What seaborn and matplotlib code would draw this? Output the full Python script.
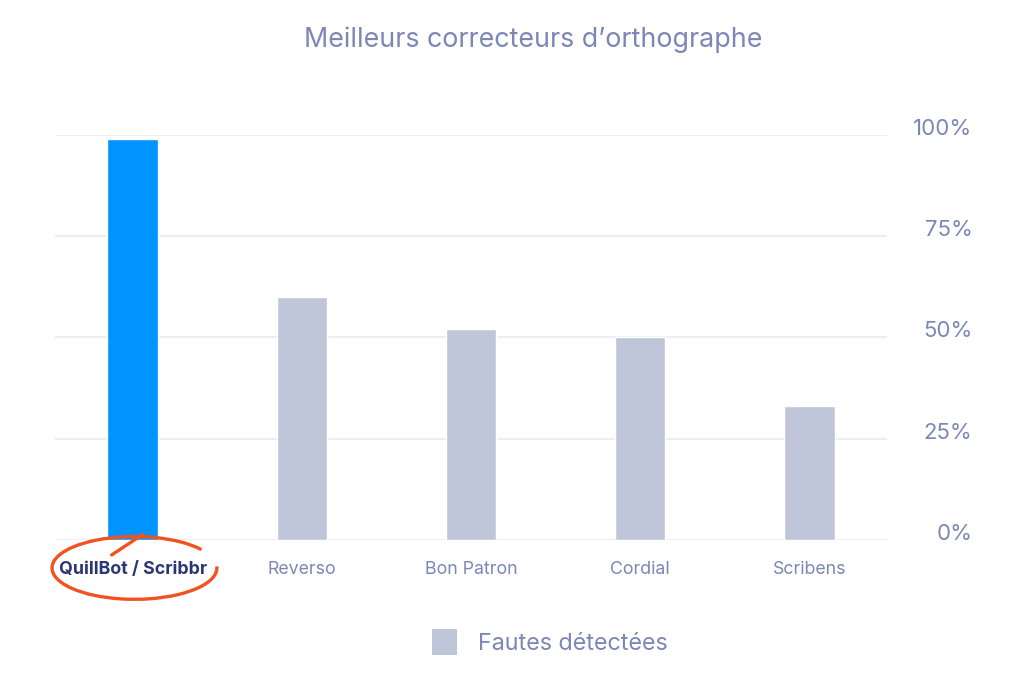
import matplotlib
matplotlib.use("Agg")
import matplotlib.pyplot as plt
from matplotlib.patches import Arc, Patch
import pandas as pd
import seaborn as sns

# valeurs
correcteurs = ["QuillBot / Scribbr", "Reverso", "Bon Patron", "Cordial", "Scribens"]
fautes = [99, 60, 52, 50, 33]
couleurs = ["#0094FF", "#C0C6D9", "#C0C6D9", "#C0C6D9", "#C0C6D9"]
yticks = [0, 25, 50, 75, 100]
ytick_labels = ["0%", "25%", "50%", "75%", "100%"]

txt = "#7C87B5"
navy = "#2B3674"
orange = "#F0531F"

sns.set_theme(style="white")
plt.rcParams["font.family"] = ["Inter", "DejaVu Sans"]

df = pd.DataFrame({"correcteur": correcteurs, "fautes": fautes})

fig = plt.figure(figsize=(10.24, 6.8), dpi=100)
ax = fig.add_axes([0.0537, 0.2059, 0.8125, 0.5956])

sns.barplot(data=df, x="correcteur", y="fautes", hue="correcteur",
            palette=couleurs, width=0.30, legend=False, ax=ax, saturation=1)

ax.set_ylim(0, 100)
ax.set_xlim(-0.46, 4.46)
ax.set_xlabel("")
ax.set_ylabel("")
for s in ax.spines.values():
    s.set_visible(False)

ax.set_yticks(yticks)
ax.set_yticklabels(ytick_labels)
ax.yaxis.tick_right()
ax.grid(axis="y", color="#E8E9EE", linewidth=1.1)
ax.set_axisbelow(True)
ax.tick_params(axis="y", length=0, pad=61.5, labelsize=16, labelcolor=txt)
for lab in ax.get_yticklabels():
    lab.set_horizontalalignment("right")
    lab.set_verticalalignment("baseline")

ax.tick_params(axis="x", length=0, pad=15, labelsize=12.8, labelcolor=txt)
first = ax.get_xticklabels()[0]
first.set_color(navy)
first.set_fontweight("bold")

# annotation à la main autour de QuillBot / Scribbr
arc = Arc((0.01, -6.9), 0.975, 15.5, theta1=85, theta2=398,
          color=orange, linewidth=2.4, clip_on=False)
ax.add_patch(arc)
ax.plot([-0.125, 0.06], [-3.7, 1.4], color=orange, linewidth=2.4,
        solid_capstyle="round", clip_on=False)

fig.text(0.521, 0.941, "Meilleurs correcteurs d\u2019orthographe",
         ha="center", va="center", fontsize=19.3, color=txt)

handle = Patch(facecolor="#C0C6D9", edgecolor="none")
fig.legend([handle], ["Fautes détectées"], loc="center",
           bbox_to_anchor=(0.537, 0.056), frameon=False, fontsize=16.8,
           labelcolor=txt, handlelength=1.05, handleheight=1.35,
           handletextpad=0.9)

fig.savefig("out.png", dpi=100)
